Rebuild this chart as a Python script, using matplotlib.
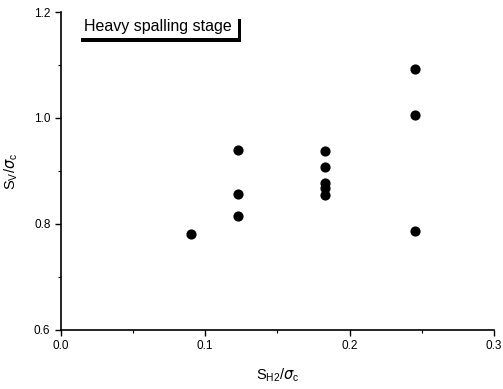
import matplotlib.pyplot as plt
from matplotlib.patches import Rectangle
from matplotlib.ticker import MultipleLocator

plt.rcParams['font.family'] = ['Liberation Sans', 'DejaVu Sans']

# S_H2/sigma_c and S_V/sigma_c
sh2 = [0.090, 0.123, 0.123, 0.123, 0.183, 0.183, 0.183, 0.183, 0.183, 0.245, 0.245, 0.245]
sv = [0.781, 0.815, 0.857, 0.940, 0.855, 0.868, 0.877, 0.908, 0.938, 0.787, 1.005, 1.093]

x_ticks = [0.0, 0.1, 0.2, 0.3]
y_ticks = [0.6, 0.8, 1.0, 1.2]
stage_label = 'Heavy spalling stage'

fig = plt.figure(figsize=(5.03, 3.89), dpi=100)
ax = fig.add_axes([0.121, 0.152, 0.861, 0.817])

ax.scatter(sh2, sv, s=40, color='black', zorder=3, clip_on=False)

ax.set_xlim(0, 0.3)
ax.set_ylim(0.6, 1.2)
ax.set_xticks(x_ticks)
ax.set_yticks(y_ticks)
ax.set_xticklabels(['%.1f' % v for v in x_ticks])
ax.set_yticklabels(['%.1f' % v for v in y_ticks])
ax.xaxis.set_minor_locator(MultipleLocator(0.05))
ax.yaxis.set_minor_locator(MultipleLocator(0.1))
ax.tick_params(which='major', direction='out', length=4, width=1, labelsize=8.5, colors='black')
ax.tick_params(which='minor', direction='out', length=2, width=0.8)

ax.spines['top'].set_visible(False)
ax.spines['right'].set_visible(False)
for side in ['left', 'bottom']:
    ax.spines[side].set_linewidth(1.2)

ax.set_xlabel(r'S$_{\mathregular{H2}}$/$\sigma_{\mathregular{c}}$', fontsize=10.5, labelpad=10)
ax.set_ylabel(r'S$_{\mathregular{V}}$/$\sigma_{\mathregular{c}}$', fontsize=10.5, labelpad=10)

# stage label box with drop shadow on right and bottom
x0, y0, w, h = 0.039, 0.918, 0.37, 0.072
ax.add_patch(Rectangle((x0 + 0.008, y0 - 0.012), w, h, transform=ax.transAxes,
                       facecolor='black', edgecolor='none', clip_on=False, zorder=4))
ax.add_patch(Rectangle((x0, y0), w, h, transform=ax.transAxes,
                       facecolor='white', edgecolor='none', clip_on=False, zorder=5))
ax.text(x0 + w / 2, y0 + h / 2, stage_label, transform=ax.transAxes,
        ha='center', va='center', fontsize=11.5, zorder=6)

fig.savefig('out.png', dpi=100)
